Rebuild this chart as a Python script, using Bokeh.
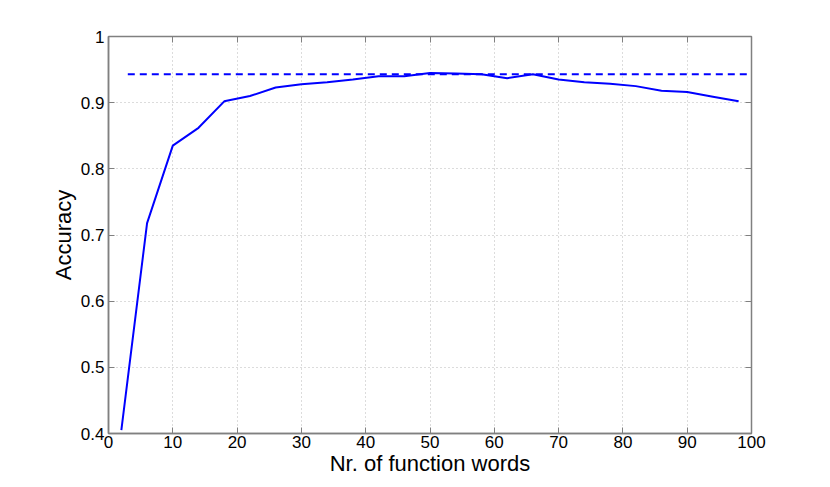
from bokeh.plotting import figure
from bokeh.models import LinearAxis, Range1d, FixedTicker
from bokeh.embed import file_html
from bokeh.resources import INLINE

# data
n_words = [2, 6, 10, 14, 18, 22, 26, 30, 34, 38, 42, 46, 50, 54, 58, 62, 66, 70, 74, 78, 82, 86, 90, 94, 98]
accuracy = [0.405, 0.718, 0.835, 0.862, 0.902, 0.910, 0.923, 0.928, 0.931, 0.935, 0.940, 0.940, 0.945, 0.944,
            0.943, 0.937, 0.943, 0.935, 0.931, 0.9285, 0.925, 0.918, 0.916, 0.909, 0.902]
baseline_x = [3, 100]
baseline_y = [0.943, 0.943]
x_ticks = [0, 10, 20, 30, 40, 50, 60, 70, 80, 90, 100]
y_ticks = [0.4, 0.5, 0.6, 0.7, 0.8, 0.9, 1.0]
y_tick_labels = {0.4: "0.4", 0.5: "0.5", 0.6: "0.6", 0.7: "0.7", 0.8: "0.8", 0.9: "0.9", 1.0: "1"}

FONT = "Liberation Sans"
AX = "#808080"

p = figure(width=822, height=479, output_backend="svg", toolbar_location=None,
           x_range=Range1d(0, 100), y_range=Range1d(0.4, 1.0),
           min_border_left=108, min_border_right=71, min_border_top=36, min_border_bottom=46)
p.background_fill_color = "white"
p.border_fill_color = "white"
p.outline_line_color = AX
p.outline_line_width = 1.5

for ax in (p.xaxis[0], p.yaxis[0]):
    ax.axis_line_color = AX
    ax.axis_line_width = 1.5
    ax.major_tick_line_color = AX
    ax.major_tick_in = 6
    ax.major_tick_out = 0
    ax.minor_tick_line_color = None
    ax.major_label_text_font = FONT
    ax.major_label_text_font_size = "17px"
    ax.major_label_text_color = "black"
    ax.axis_label_text_font = FONT
    ax.axis_label_text_font_size = "22px"
    ax.axis_label_text_font_style = "normal"
    ax.axis_label_text_color = "black"

p.xaxis[0].ticker = FixedTicker(ticks=x_ticks)
p.yaxis[0].ticker = FixedTicker(ticks=y_ticks)
p.yaxis[0].major_label_overrides = y_tick_labels
p.xaxis[0].axis_label = "Nr. of function words"
p.yaxis[0].axis_label = "Accuracy"
p.xaxis[0].major_label_standoff = 2
p.xaxis[0].axis_label_standoff = 0
p.yaxis[0].major_label_standoff = 4
p.yaxis[0].axis_label_standoff = 2

top = LinearAxis(ticker=FixedTicker(ticks=x_ticks), major_label_text_font_size="0px",
                 axis_line_color=AX, major_tick_line_color=AX, major_tick_in=6, major_tick_out=0,
                 minor_tick_line_color=None, major_label_text_color=None)
right = LinearAxis(ticker=FixedTicker(ticks=y_ticks), major_label_text_font_size="0px",
                   axis_line_color=AX, major_tick_line_color=AX, major_tick_in=6, major_tick_out=0,
                   minor_tick_line_color=None, major_label_text_color=None)
p.add_layout(top, "above")
p.add_layout(right, "right")

p.xgrid.ticker = FixedTicker(ticks=x_ticks)
p.ygrid.ticker = FixedTicker(ticks=y_ticks)
for g in (p.xgrid[0], p.ygrid[0]):
    g.grid_line_color = "#b8b8b8"
    g.grid_line_dash = "1 3"
    g.grid_line_width = 1

p.line(baseline_x, baseline_y, line_color="#0000ff", line_width=2, line_dash="7 5")
p.line(n_words, accuracy, line_color="#0000ff", line_width=2)

open("out.html", "w").write(file_html(p, INLINE))
